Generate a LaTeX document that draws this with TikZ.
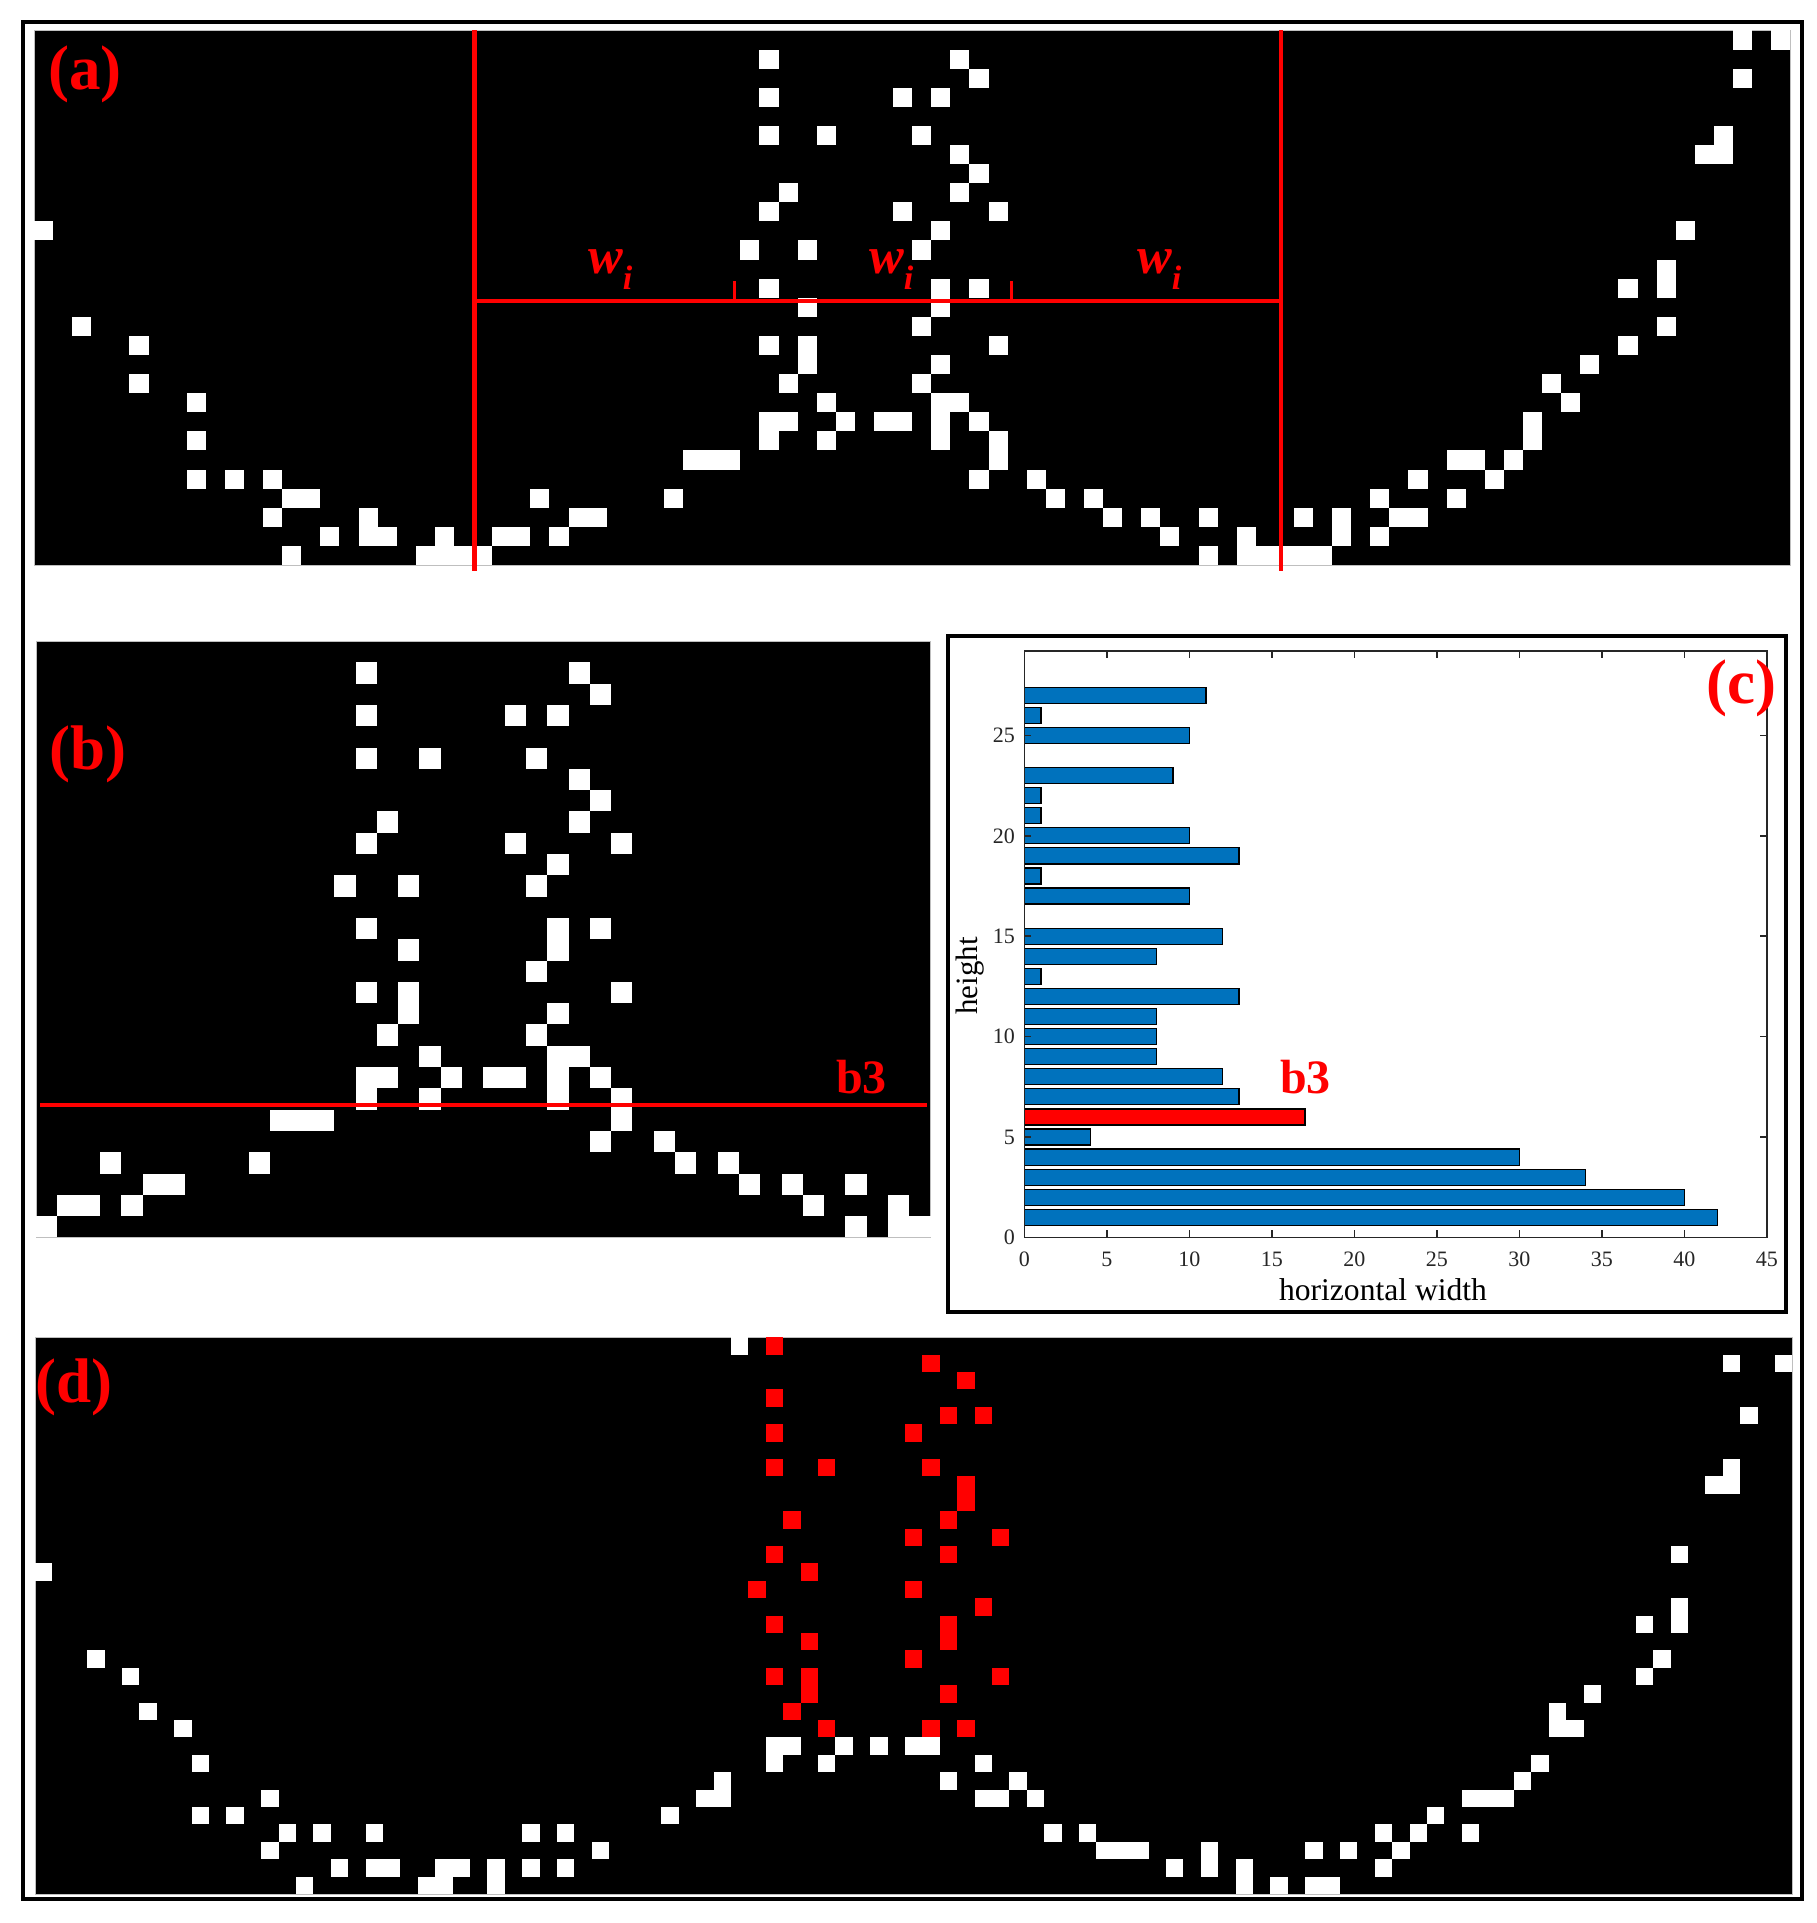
\documentclass[tikz,border=0pt]{standalone}
\usepackage{fontspec}
\setmainfont{Liberation Serif}
\definecolor{mblue}{RGB}{0,114,189}
\definecolor{pred}{RGB}{255,0,0}
\definecolor{axgray}{RGB}{38,38,38}
\def\acells{0/17,2/12,5/11,5/9,8/8,8/6,8/4,10/4,12/4,13/3,14/3,12/2,15/1,17/2,17/1,18/1,13/0,20/0,21/0,22/0,23/0,21/1,24/1,25/1,26/3,27/1,28/2,29/2,
38/26,38/24,38/22,41/22,39/19,38/18,37/16,40/16,38/14,40/13,38/11,40/11,40/10,39/9,41/8,38/7,39/7,38/6,42/7,41/6,44/7,45/7,34/5,35/5,36/5,33/3,
48/26,49/25,45/24,47/24,46/22,48/21,49/20,48/19,45/18,50/18,47/17,46/16,47/14,49/14,47/13,46/12,50/11,47/10,46/9,47/8,48/8,47/7,47/6,49/7,50/6,50/5,49/4,52/4,53/3,55/3,56/2,58/2,59/1,61/2,61/0,
63/1,63/0,64/0,65/0,66/0,67/0,66/2,68/2,68/1,70/3,70/1,71/2,72/2,72/4,74/3,74/5,75/5,76/4,77/5,78/6,78/7,79/9,80/8,81/10,83/11,83/14,85/12,85/14,85/15,86/17,87/21,88/21,88/22,89/25,89/27,91/27}
\def\dwhite{0/18,3/13,5/12,6/10,8/9,9/7,9/4,11/4,13/5,14/3,13/2,16/3,19/3,15/0,17/1,19/1,20/1,22/0,23/0,23/1,24/1,26/0,26/1,28/3,28/1,30/3,30/1,32/2,36/4,38/5,39/5,39/6,40/31,42/8,43/8,42/7,46/8,45/7,48/8,50/8,51/8,54/7,52/6,56/6,54/5,55/5,57/5,58/3,60/3,61/2,62/2,63/2,65/1,67/1,67/2,69/0,69/1,71/0,73/0,74/0,73/2,75/2,77/3,77/1,78/2,79/3,80/4,82/3,82/5,83/5,84/5,85/6,86/7,87/9,88/9,87/10,89/11,92/12,93/13,92/15,94/15,94/16,94/19,96/23,97/23,97/24,98/27,97/30,100/30}
\def\dred{42/31,42/28,42/26,42/24,45/24,43/21,42/19,44/18,41/17,42/15,44/14,42/12,44/12,44/11,43/10,45/9,51/30,53/29,52/27,54/27,50/26,51/24,53/23,53/22,52/21,50/20,55/20,52/19,50/17,54/16,52/15,52/14,50/13,55/12,52/11,51/9,53/9}
\tikzset{
  lab/.style={text=pred,inner sep=0pt,anchor=base west,font=\fontsize{63}{63}\selectfont\bfseries},
  blab/.style={text=pred,inner sep=0pt,anchor=base west,font=\fontsize{48}{48}\selectfont\bfseries},
  wlab/.style={text=pred,inner sep=0pt,anchor=base west,font=\fontsize{52}{52}\selectfont\bfseries\itshape},
  redline/.style={draw=pred,line width=4.5pt},
  img/.style={fill=black,draw=black!25,line width=1pt},
  ticklab/.style={text=axgray,inner sep=0pt,font=\fontsize{22}{22}\selectfont},
  bar/.style={fill=mblue,draw=black,line width=1.2pt}
}
\newcommand{\wi}{w\raisebox{-16pt}{\fontsize{34}{34}\selectfont i}}
\begin{document}
\begin{tikzpicture}[x=1pt,y=-1pt]
\useasboundingbox (0,0) rectangle (1817,1923);
\fill[white] (0,0) rectangle (1817,1923);
\draw[line width=4pt] (23,22) rectangle (1802,1899);
% ---------- panel (a)
\def\sa{19.09}
\filldraw[img] (34,30.5) rectangle (1790.3,565);
\foreach \cc/\rr in \acells {
  \fill[white] ({34+\cc*\sa},{565-(\rr+1)*\sa}) rectangle ++(\sa,\sa);
}
\draw[redline] (474.5,30) -- (474.5,571);
\draw[redline] (1281,30) -- (1281,571);
\draw[redline] (474.5,301) -- (1281,301);
\draw[draw=pred,line width=3pt] (734.5,301) -- (734.5,281);
\draw[draw=pred,line width=3pt] (1011.5,301) -- (1011.5,281);
\node[wlab] (w1) at (588,273) {\wi};
\node[wlab] (w2) at (869,273) {\wi};
\node[wlab] (w3) at (1137,273) {\wi};
\node[lab] (la) at (48,89) {(a)};
% ---------- panel (b)
\def\sb{21.3}
\filldraw[img] (36,641) rectangle (930.6,1237.4);
\foreach \cc/\rr in \acells {
  \ifnum\cc>22 \ifnum\cc<65
    \fill[white] ({36+(\cc-23)*\sb},{1237.4-(\rr+1)*\sb}) rectangle ++(\sb,\sb);
  \fi\fi
}
\draw[redline,line width=4pt] (40,1104.5) -- (927,1104.5);
\node[blab] (b3b) at (836,1093) {b3};
\node[lab] (lb) at (49,769) {(b)};
% ---------- panel (c)
\draw[line width=4pt] (948,636) rectangle (1786,1312);
\def\xo{1024.4}\def\yo{1237.4}\def\ux{16.5}\def\uy{20.08}
\foreach \k/\v in {1/42,2/40,3/34,4/30,5/4,7/13,8/12,9/8,10/8,11/8,12/13,13/1,14/8,15/12,17/10,18/1,19/13,20/10,21/1,22/1,23/9,25/10,26/1,27/11}{
  \filldraw[bar] (\xo,{\yo-(\k+0.4)*\uy}) rectangle ({\xo+\v*\ux},{\yo-(\k-0.4)*\uy});
}
\filldraw[bar,fill=pred] (\xo,{\yo-6.4*\uy}) rectangle ({\xo+17*\ux},{\yo-5.6*\uy});
\draw[axgray,line width=1.5pt] (\xo,651) rectangle ({\xo+45*\ux},\yo);
\foreach \t in {0,5,...,45}{
  \draw[axgray,line width=1.5pt] ({\xo+\t*\ux},\yo) -- ++(0,-7);
  \draw[axgray,line width=1.5pt] ({\xo+\t*\ux},651) -- ++(0,7);
  \node[ticklab,anchor=north] at ({\xo+\t*\ux},1252) {\t};
}
\foreach \t in {0,5,...,25}{
  \draw[axgray,line width=1.5pt] (\xo,{\yo-\t*\uy}) -- ++(7,0);
  \draw[axgray,line width=1.5pt] ({\xo+45*\ux},{\yo-\t*\uy}) -- ++(-7,0);
  \node[ticklab,anchor=east] at (1015,{\yo-\t*\uy}) {\t};
}
\node[text=black,inner sep=0pt,anchor=base,font=\fontsize{31.6}{31.6}\selectfont] (xl) at (1383,1300) {horizontal width};
\node[text=black,inner sep=0pt,anchor=base,rotate=90,font=\fontsize{31}{31}\selectfont] (yl) at (977,976) {height};
\node[blab] (b3c) at (1280,1093) {b3};
\node[lab] (lc) at (1706,703) {(c)};
% ---------- panel (d)
\def\sd{17.4}
\filldraw[img] (35,1337.2) rectangle (1792.4,1894);
\foreach \cc/\rr in \dwhite {
  \fill[white] ({35+\cc*\sd},{1894-(\rr+1)*\sd}) rectangle ++(\sd,\sd);
}
\foreach \cc/\rr in \dred {
  \fill[pred] ({35+\cc*\sd},{1894-(\rr+1)*\sd}) rectangle ++(\sd,\sd);
}
\node[lab] (ld) at (35,1402) {(d)};
\end{tikzpicture}
\end{document}
